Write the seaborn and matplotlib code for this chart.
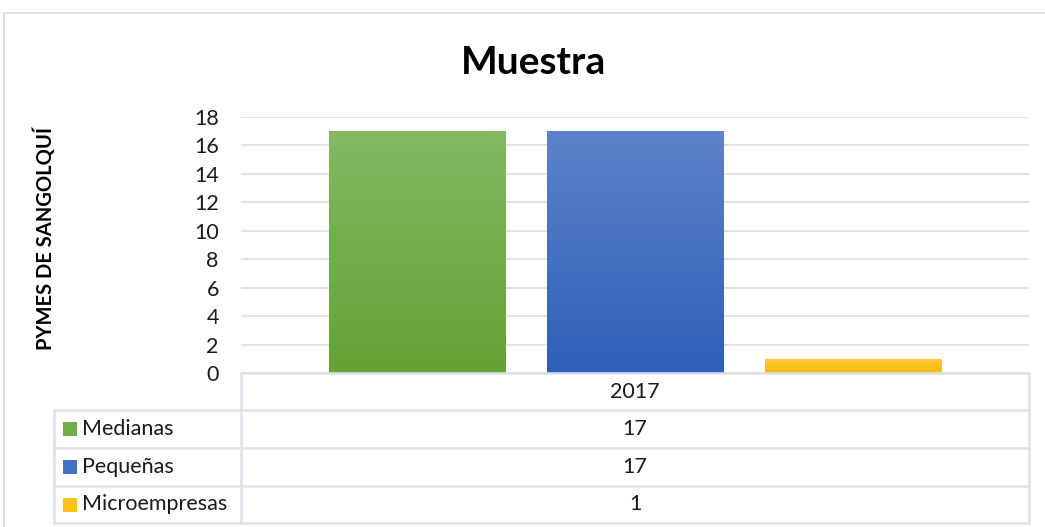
import numpy as np
import pandas as pd
import matplotlib
matplotlib.use("Agg")
import matplotlib.pyplot as plt
import seaborn as sns
from matplotlib.colors import LinearSegmentedColormap
from matplotlib.lines import Line2D
from matplotlib.patches import Rectangle

# data
anios = ["2017"]
categorias = ["Medianas", "Pequeñas", "Microempresas"]
valores = [17, 17, 1]
y_ticks = [0, 2, 4, 6, 8, 10, 12, 14, 16, 18]

# gradient colours (top, bottom) like the Excel fill
colores_top = ["#83b962", "#5c82c9", "#ffca40"]
colores_bot = ["#62a335", "#2d60b9", "#f2bb00"]
colores_mid = ["#72ad4c", "#4472c4", "#fbc219"]

df = pd.DataFrame({"anio": anios * len(categorias), "tipo": categorias, "pymes": valores})

sns.set_style("white")
plt.rcParams["font.family"] = ["Lato", "DejaVu Sans"]

W, H = 1045, 527
fig = plt.figure(figsize=(W / 100, H / 100), dpi=100)

def fx(x):
    return x / W

def fy(y):
    return 1 - y / H

ax = fig.add_axes([fx(241), fy(373), fx(1029) - fx(241), fy(117) - fy(373)])
sns.barplot(data=df, x="anio", y="pymes", hue="tipo", hue_order=categorias,
            palette=colores_mid, width=0.83, gap=0.19, legend=False, ax=ax,
            edgecolor="none", linewidth=0, err_kws={"linewidth": 0})

xlim = ax.get_xlim()
# gradient fill on each bar
grad = np.linspace(0, 1, 256).reshape(-1, 1)
for i, p in enumerate(ax.patches):
    cmap = LinearSegmentedColormap.from_list("g%d" % i, [colores_bot[i], colores_top[i]])
    x0, y0, w, h = p.get_x(), p.get_y(), p.get_width(), p.get_height()
    im = ax.imshow(grad, extent=[x0, x0 + w, y0, y0 + h], origin="lower",
                   aspect="auto", cmap=cmap, zorder=p.get_zorder() + 0.1)
    im.set_clip_path(p)

fs = 15.5
ax.set_xlim(xlim)
ax.set_ylim(0, 18)
ax.set_yticks(y_ticks)
ax.tick_params(axis="y", length=0, pad=16, labelsize=fs, labelcolor="#1a1a1a")
ax.set_xticks([])
ax.set_xlabel("")
ax.set_ylabel("")
ax.yaxis.grid(True, color="#dcdfe5", linewidth=1.3)
ax.set_axisbelow(True)
sns.despine(ax=ax, left=True, bottom=True, top=True, right=True)

# title and y label
fig.text(fx(533), fy(62), "Muestra", ha="center", va="center",
         fontsize=28, fontweight="bold", color="#000000")
fig.text(fx(45), fy(239), "PYMES DE SANGOLQUÍ", ha="center", va="center",
         rotation=90, fontsize=14.5, fontweight="bold", color="#000000")

# outer chart border
fig.add_artist(Rectangle((fx(4), fy(H + 5)), fx(W + 10), fy(13) - fy(H + 5),
                         transform=fig.transFigure, fill=False,
                         edgecolor="#d9d9d9", linewidth=1.2))

# data table
lc = "#dde1e7"
lw = 1.8
filas = [373, 410, 448, 486, 523]
fig.add_artist(Line2D([fx(241), fx(1029)], [fy(373), fy(373)], transform=fig.transFigure, color=lc, lw=lw))
for yy in filas[1:]:
    fig.add_artist(Line2D([fx(54), fx(1029)], [fy(yy), fy(yy)], transform=fig.transFigure, color=lc, lw=lw))
fig.add_artist(Line2D([fx(241), fx(241)], [fy(373), fy(523)], transform=fig.transFigure, color=lc, lw=lw))
fig.add_artist(Line2D([fx(1029), fx(1029)], [fy(373), fy(523)], transform=fig.transFigure, color=lc, lw=lw))
fig.add_artist(Line2D([fx(54), fx(54)], [fy(410), fy(523)], transform=fig.transFigure, color=lc, lw=lw))

xc = fx(635)
fig.text(xc, fy((373 + 410) / 2), anios[0], ha="center", va="center", fontsize=fs, color="#1a1a1a")
for i, cat in enumerate(categorias):
    yc = (filas[i + 1] + filas[i + 2]) / 2
    fig.add_artist(Rectangle((fx(63), fy(yc + 7)), fx(14), fy(yc - 7) - fy(yc + 7),
                             transform=fig.transFigure, facecolor=colores_mid[i], edgecolor="none"))
    fig.text(fx(82), fy(yc), cat, ha="left", va="center", fontsize=fs, color="#1a1a1a")
    fig.text(xc, fy(yc), str(valores[i]), ha="center", va="center", fontsize=fs, color="#1a1a1a")

fig.savefig("out.png", dpi=100)
